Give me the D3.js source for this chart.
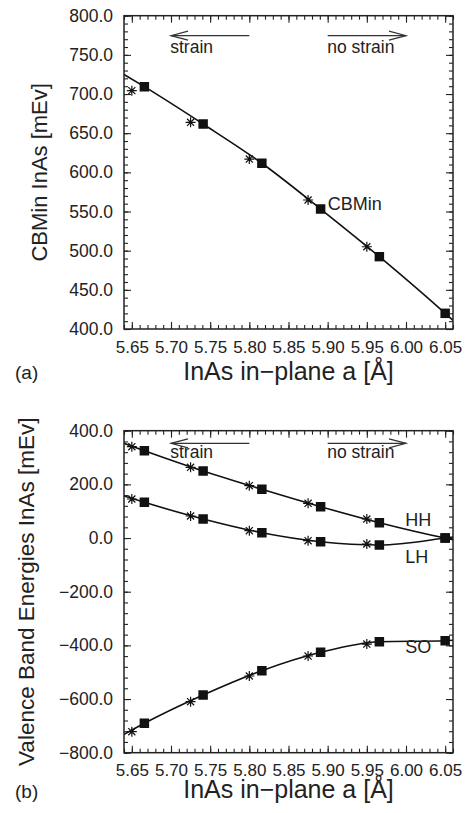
<!DOCTYPE html>
<html>
<head>
<meta charset="utf-8">
<script src="https://cdn.jsdelivr.net/npm/d3@7"></script>
<style>
  body { margin: 0; background: #fff; }
  svg { display: block; font-family: "Liberation Sans", Arial, Helvetica, sans-serif; }
  text { fill: #222; }
</style>
</head>
<body>
<div id="chart"></div>
<script>
const width = 466;
const height = 813;

// x ticks (lattice constant, Å)
const xTicks = [5.65, 5.7, 5.75, 5.8, 5.85, 5.9, 5.95, 6.0, 6.05];
const xDomain = [5.64, 6.06];

// strained points (squares) and reference points (asterisks)
const sqX = [5.666, 5.741, 5.816, 5.891, 5.966, 6.05];
const starX = [5.65, 5.725, 5.8, 5.875, 5.95];
const fitX = [5.64, 5.666, 5.741, 5.816, 5.891, 5.966, 6.05, 6.06];

// panel (a): conduction band minimum
const cbTicks = [400, 450, 500, 550, 600, 650, 700, 750, 800];
const cbSq = [709.4, 661.7, 611.6, 553.2, 492.4, 420];
const cbStar = [704.3, 663.9, 617, 564.7, 505];
const cbFit = [725, 709.4, 661.7, 611.6, 553.2, 492.4, 420, 411];

// panel (b): valence bands
const vbTicks = [-800, -600, -400, -200, 0, 200, 400];
const hhSq = [325.5, 249.8, 181.6, 116.8, 57.2, 0];
const hhStar = [340.4, 263.6, 195, 129.4, 70.9];
const hhFit = [353, 325.5, 249.8, 181.6, 116.8, 57.2, 0, -6];
const lhSq = [133.2, 70.9, 19.9, -13.6, -26, 0];
const lhStar = [145.5, 82.1, 27.3, -10, -22.2];
const lhFit = [157, 133.2, 70.9, 19.9, -13.6, -26, 0, 4];
const soSq = [-690.5, -585, -494.4, -425.9, -386.3, -382.6];
const soStar = [-721.8, -610, -514.2, -439.7, -395];
const soFit = [-732, -690.5, -585, -494.4, -425.9, -386.3, -382.6, -381];

const svg = d3.select("#chart").append("svg")
  .attr("width", width)
  .attr("height", height);

svg.append("rect").attr("width", width).attr("height", height).attr("fill", "#fff");

const asterisk = {
  draw(ctx, size) {
    const r = Math.sqrt(size) / 2;
    const d = r * 0.7071;
    ctx.moveTo(-r, 0); ctx.lineTo(r, 0);
    ctx.moveTo(0, -r); ctx.lineTo(0, r);
    ctx.moveTo(-d, -d); ctx.lineTo(d, d);
    ctx.moveTo(-d, d); ctx.lineTo(d, -d);
  }
};

const x = d3.scaleLinear().domain(xDomain).range([124, 453]);

function panel(id, top, bottom, yDomain, yTicks, yMinorStep, curves, opts) {
  const y = d3.scaleLinear().domain(yDomain).range([bottom, top]);
  const g = svg.append("g");

  const clipId = "clip-" + id;
  g.append("clipPath").attr("id", clipId)
    .append("rect")
    .attr("x", x.range()[0]).attr("y", top)
    .attr("width", x.range()[1] - x.range()[0]).attr("height", bottom - top);

  const xMinor = d3.range(0, 43).map((i) => +(xDomain[0] + i * 0.01).toFixed(2));
  const yMinor = d3.range(yDomain[0], yDomain[1] + 0.001, yMinorStep);

  // ticks on all four sides, pointing inward
  const axes = [
    [d3.axisBottom(x).tickValues(xMinor).tickSize(-4), bottom, 0],
    [d3.axisBottom(x).tickValues(xTicks).tickSize(-7).tickPadding(11.5).tickFormat(d3.format(".2f")), bottom, 0],
    [d3.axisTop(x).tickValues(xMinor).tickSize(-4), top, 0],
    [d3.axisTop(x).tickValues(xTicks).tickSize(-7), top, 0],
    [d3.axisLeft(y).tickValues(yMinor).tickSize(-4), 0, x.range()[0]],
    [d3.axisLeft(y).tickValues(yTicks).tickSize(-7).tickPadding(11).tickFormat(d3.format(".1f")), 0, x.range()[0]],
    [d3.axisRight(y).tickValues(yMinor).tickSize(-4), 0, x.range()[1]],
    [d3.axisRight(y).tickValues(yTicks).tickSize(-7), 0, x.range()[1]],
  ];
  axes.forEach(([ax, ty, tx], i) => {
    const a = g.append("g").attr("transform", `translate(${tx},${ty})`).call(ax);
    a.select(".domain").remove();
    a.selectAll("line").attr("stroke", "#222").attr("stroke-width", 1.1);
    a.selectAll("text").attr("font-size", i === 1 ? 17 : 17.5).attr("fill", "#222")
      .attr("font-family", "Liberation Sans, Arial, sans-serif");
    if (i !== 1 && i !== 5) a.selectAll("text").remove();
  });

  const line = d3.line().x((d) => x(d[0])).y((d) => y(d[1])).curve(d3.curveMonotoneX);
  const plot = g.append("g").attr("clip-path", `url(#${clipId})`);

  curves.forEach((c) => {
    plot.append("path")
      .datum(fitX.map((v, i) => [v, c.fit[i]]))
      .attr("d", line)
      .attr("fill", "none")
      .attr("stroke", "#111")
      .attr("stroke-width", 1.6);

    plot.selectAll(null)
      .data(starX.map((v, i) => [v, c.star[i]]))
      .join("path")
      .attr("transform", (d) => `translate(${x(d[0])},${y(d[1])})`)
      .attr("d", d3.symbol().type(asterisk).size(100))
      .attr("fill", "none")
      .attr("stroke", "#111")
      .attr("stroke-width", 1.2);

    plot.selectAll(null)
      .data(sqX.map((v, i) => [v, c.sq[i]]))
      .join("path")
      .attr("transform", (d) => `translate(${x(d[0])},${y(d[1])})`)
      .attr("d", d3.symbol().type(d3.symbolSquare).size(90))
      .attr("fill", "#111");
  });

  // strain arrows
  const ay = y(opts.arrowY);
  const arrows = [[5.8, 5.7], [5.9, 6.0]];
  arrows.forEach(([a0, a1]) => {
    const dir = a1 > a0 ? -1 : 1;
    g.append("line")
      .attr("x1", x(a0)).attr("x2", x(a1)).attr("y1", ay).attr("y2", ay)
      .attr("stroke", "#333").attr("stroke-width", 1.2);
    g.append("path")
      .attr("d", `M${x(a1) + dir * 17},${ay - 4.5}L${x(a1)},${ay}L${x(a1) + dir * 17},${ay + 4.5}`)
      .attr("fill", "none").attr("stroke", "#333").attr("stroke-width", 1.2);
  });
  g.append("text").attr("x", x(5.699)).attr("y", y(opts.textY))
    .attr("font-size", 17.5).text("strain");
  g.append("text").attr("x", x(5.8995)).attr("y", y(opts.textY))
    .attr("font-size", 17.5).text("no strain");

  opts.labels.forEach((l) => {
    g.append("text").attr("x", x(l.x)).attr("y", y(l.y))
      .attr("font-size", 18).text(l.text);
  });

  g.append("rect")
    .attr("x", x.range()[0]).attr("y", top)
    .attr("width", x.range()[1] - x.range()[0]).attr("height", bottom - top)
    .attr("fill", "none").attr("stroke", "#222").attr("stroke-width", 1.5);

  g.append("text")
    .attr("x", (x.range()[0] + x.range()[1]) / 2).attr("y", opts.xTitleY)
    .attr("text-anchor", "middle").attr("font-size", opts.xTitleSize)
    .text("InAs in\u2212plane a [Å]");

  g.append("text")
    .attr("transform", `translate(${opts.yTitleX},${(top + bottom) / 2}) rotate(-90)`)
    .attr("text-anchor", "middle").attr("font-size", opts.yTitleSize)
    .text(opts.yTitle);

  g.append("text").attr("x", 15).attr("y", opts.tagY)
    .attr("font-size", 19).text(opts.tag);
}

panel("a", 15.7, 329, [400, 800], cbTicks, 10,
  [{ fit: cbFit, sq: cbSq, star: cbStar }],
  {
    arrowY: 774.5, textY: 752,
    labels: [{ x: 5.9, y: 552, text: "CBMin" }],
    xTitleY: 380, xTitleSize: 25,
    yTitle: "CBMin InAs [mEv]", yTitleX: 46.5, yTitleSize: 22,
    tag: "(a)", tagY: 379,
  });

panel("b", 430.7, 752.7, [-800, 400], vbTicks, 40,
  [
    { fit: hhFit, sq: hhSq, star: hhStar },
    { fit: lhFit, sq: lhSq, star: lhStar },
    { fit: soFit, sq: soSq, star: soStar },
  ],
  {
    arrowY: 353, textY: 300,
    labels: [
      { x: 5.9992, y: 45, text: "HH" },
      { x: 5.9992, y: -94, text: "LH" },
      { x: 5.9992, y: -427, text: "SO" },
    ],
    xTitleY: 798, xTitleSize: 25,
    yTitle: "Valence Band Energies InAs [mEv]", yTitleX: 33.5, yTitleSize: 22.5,
    tag: "(b)", tagY: 798,
  });
</script>
</body>
</html>
